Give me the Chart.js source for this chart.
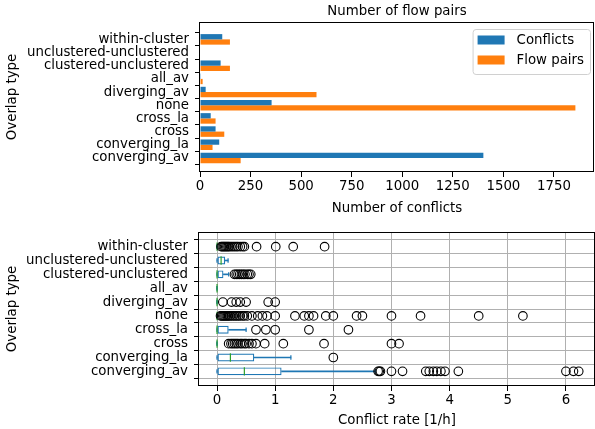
<!DOCTYPE html>
<html>
<head>
<meta charset="utf-8">
<script src="https://cdn.jsdelivr.net/npm/chart.js@4.4.0/dist/chart.umd.min.js"></script>
<style>
  html, body { margin: 0; padding: 0; background: #fff; }
  #wrap { position: relative; width: 595px; height: 429px; overflow: hidden; }
  canvas { position: absolute; left: 0; }
  #topChart { top: 0; }
  #boxChart { top: 215px; }
</style>
</head>
<body>
<div id="wrap">
  <canvas id="topChart" width="595" height="222"></canvas>
  <canvas id="boxChart" width="595" height="222"></canvas>
</div>
<script>
// categories, top to bottom as in the picture
const categories = ["within-cluster", "unclustered-unclustered", "clustered-unclustered", "all_av", "diverging_av",
  "none", "cross_la", "cross", "converging_la", "converging_av"];

// top chart: counts
const conflicts = [110, 0, 102, 1, 28, 354, 53, 77, 95, 1401];
const flowPairs = [148, 0, 148, 13, 576, 1856, 77, 120, 62, 201];
const countTicks = [0, 250, 500, 750, 1000, 1250, 1500, 1750];

// bottom chart: conflict rate box stats
const rateTicks = [0, 1, 2, 3, 4, 5, 6];
const q1 = [0, 0, 0, 0, 0, 0, 0, 0, 0, 0];
const medians = [0, 0.07, 0, 0, 0, 0, 0, 0, 0.23, 0.47];
const q3 = [0, 0.14, 0.11, 0, 0, 0, 0.2, 0, 0.64, 1.11];
const whiskLo = [0, 0, 0, 0, 0, 0, 0, 0, 0, 0];
const whiskHi = [0, 0.19, 0.2, 0, 0, 0, 0.5, 0, 1.27, 2.72];
const fliers = [
  [0.07, 0.09, 0.11, 0.13, 0.15, 0.17, 0.19, 0.21, 0.24, 0.27, 0.3, 0.33, 0.36, 0.4, 0.44, 0.47, 0.68, 1.01, 1.31, 1.85],
  [],
  [0.3, 0.33, 0.36, 0.39, 0.42, 0.45, 0.48, 0.52, 0.55, 0.58],
  [],
  [0.1, 0.25, 0.33, 0.4, 0.5, 0.88, 1.0],
  [0.06, 0.08, 0.1, 0.12, 0.14, 0.16, 0.18, 0.2, 0.22, 0.25, 0.28, 0.31, 0.34, 0.37, 0.4, 0.44, 0.47, 0.52, 0.6, 0.7,
    0.78, 0.86, 1.0, 1.34, 1.5, 1.58, 1.66, 1.87, 2.0, 2.4, 2.5, 3.0, 3.5, 4.5, 5.26],
  [0.67, 0.84, 1.0, 1.58, 2.26],
  [0.2, 0.24, 0.27, 0.3, 0.33, 0.36, 0.4, 0.43, 0.47, 0.5, 0.55, 0.6, 0.67, 0.82, 1.14, 1.84, 3.0, 3.13],
  [2.0],
  [2.77, 2.79, 2.81, 3.0, 3.19, 3.59, 3.65, 3.72, 3.78, 3.85, 3.92, 4.15, 6.0, 6.13, 6.22]
];

const blue = "#1f77b4", orange = "#ff7f0e", green = "#2ca02c";

Chart.defaults.font.family = "'DejaVu Sans'";
Chart.defaults.font.size = 13.33;
Chart.defaults.color = "#000";
Chart.defaults.animation = false;
Chart.defaults.plugins.legend.display = false;
Chart.defaults.plugins.tooltip.enabled = false;

// black frame round the plot area, like matplotlib spines
const frame = {
  id: "frame",
  afterDatasetsDraw(chart) {
    const { ctx, chartArea: a } = chart;
    ctx.save();
    ctx.strokeStyle = "#000";
    ctx.lineWidth = 1;
    ctx.strokeRect(Math.round(a.left) - 0.5, Math.round(a.top) + 0.5,
      Math.round(a.right - a.left), Math.round(a.bottom - a.top) - 1);
    ctx.restore();
  }
};

// legend box in the top right corner of the plot
const legendBox = {
  id: "legendBox",
  afterDraw(chart) {
    const { ctx, chartArea } = chart;
    const sets = chart.data.datasets;
    ctx.save();
    ctx.font = "13.33px 'DejaVu Sans'";
    const textW = Math.max(...sets.map(d => ctx.measureText(d.label).width));
    const w = 5 + 27 + 12 + textW + 6;
    const h = 45;
    const x = chartArea.right - 4 - w;
    const y = chartArea.top + 7;
    ctx.beginPath();
    ctx.roundRect(x + 0.5, y + 0.5, w, h, 3);
    ctx.fillStyle = "rgba(255,255,255,0.8)";
    ctx.fill();
    ctx.strokeStyle = "#d0d0d0";
    ctx.lineWidth = 1;
    ctx.stroke();
    sets.forEach((d, i) => {
      const cy = y + 11 + i * 20;
      ctx.fillStyle = d.backgroundColor;
      ctx.fillRect(x + 5, cy - 4.5, 27, 9);
      ctx.fillStyle = "#000";
      ctx.textBaseline = "middle";
      ctx.fillText(d.label, x + 5 + 27 + 12, cy + 1);
    });
    ctx.restore();
  }
};

const yTicksAt = (scale) => { scale.ticks = categories.map((c, i) => ({ value: i })); };

// top: grouped horizontal bars
new Chart(document.getElementById("topChart"), {
  type: "bar",
  data: {
    datasets: [
      { label: "Conflicts", backgroundColor: blue, data: conflicts.map((v, i) => ({ x: v, y: i })) },
      { label: "Flow pairs", backgroundColor: orange, data: flowPairs.map((v, i) => ({ x: v, y: i })) }
    ]
  },
  options: {
    responsive: false,
    indexAxis: "y",
    categoryPercentage: 0.8,
    barPercentage: 1.0,
    layout: { autoPadding: false, padding: { left: 0, right: 1, top: 0, bottom: 0 } },
    scales: {
      x: {
        type: "linear", min: 0, max: 1948,
        afterBuildTicks: (s) => { s.ticks = countTicks.map(v => ({ value: v })); },
        afterFit: (s) => { s.height = 50; },
        grid: { drawOnChartArea: false, tickLength: 5, tickColor: "#000" },
        border: { display: false },
        ticks: { padding: 2, maxRotation: 0, autoSkip: false, callback: (v) => String(v) },
        title: { display: true, text: "Number of conflicts", padding: { top: 0, bottom: 5 } }
      },
      // carries only the title, so it is centred over the plot area
      x2: {
        type: "linear", position: "top",
        afterFit: (s) => { s.height = 22; },
        grid: { display: false, drawTicks: false },
        border: { display: false },
        ticks: { display: false },
        title: { display: true, text: "Number of flow pairs", font: { lineHeight: 1 }, padding: { top: 5, bottom: 3.67 } }
      },
      y: {
        type: "linear", reverse: true, min: -0.75, max: 9.5,
        afterBuildTicks: yTicksAt,
        afterFit: (s) => { s.width = 200; },
        grid: { drawOnChartArea: false, tickLength: 5, tickColor: "#000" },
        border: { display: false },
        ticks: { padding: 6, autoSkip: false, callback: (v) => categories[v] },
        title: { display: true, text: "Overlap type", padding: { top: 5, bottom: 0 } }
      }
    }
  },
  plugins: [frame, legendBox]
});

// bottom: box plot built from floating bars and points
const flierPoints = [];
fliers.forEach((list, i) => list.forEach(v => flierPoints.push({ x: v, y: i })));

new Chart(document.getElementById("boxChart"), {
  type: "bar",
  data: {
    datasets: [
      { type: "scatter", label: "fliers", data: flierPoints, pointStyle: "circle", radius: 4.3,
        borderColor: "#000", backgroundColor: "rgba(0,0,0,0)", borderWidth: 1.1 },
      { type: "scatter", label: "median", data: medians.map((v, i) => ({ x: v, y: i })), pointStyle: "line",
        rotation: 90, radius: 4.2, borderColor: green, borderWidth: 1.2 },
      { type: "scatter", label: "caps", data: whiskHi.map((v, i) => ({ x: v, y: i })).concat(whiskLo.map((v, i) => ({ x: v, y: i }))),
        pointStyle: "line", rotation: 90, radius: 2.2, borderColor: blue, borderWidth: 1.2 },
      { label: "box", grouped: false, categoryPercentage: 0.57, barPercentage: 1,
        data: q1.map((v, i) => ({ x: [v, q3[i]], y: i })),
        backgroundColor: "rgba(0,0,0,0)", borderColor: blue, borderWidth: 1.2, borderSkipped: false },
      { label: "whisker high", grouped: false, barThickness: 1,
        data: q3.map((v, i) => ({ x: [v, whiskHi[i]], y: i })), backgroundColor: blue, borderWidth: 0 },
      { label: "whisker low", grouped: false, barThickness: 1,
        data: q1.map((v, i) => ({ x: [whiskLo[i], v], y: i })), backgroundColor: blue, borderWidth: 0 }
    ]
  },
  options: {
    responsive: false,
    indexAxis: "y",
    layout: { autoPadding: false, padding: { left: 0, right: 0, top: 17, bottom: 0 } },
    scales: {
      x: {
        type: "linear", min: -0.31, max: 6.5,
        afterBuildTicks: (s) => { s.ticks = rateTicks.map(v => ({ value: v })); },
        afterFit: (s) => { s.height = 51; },
        grid: { color: "#b0b0b0", lineWidth: 1, tickLength: 5, tickColor: "#000" },
        border: { display: false },
        ticks: { padding: 2, maxRotation: 0, autoSkip: false },
        title: { display: true, text: "Conflict rate [1/h]", padding: { top: 0, bottom: 8 } }
      },
      y: {
        type: "linear", reverse: true, min: -0.5, max: 9.5,
        afterBuildTicks: yTicksAt,
        afterFit: (s) => { s.width = 199; },
        grid: { color: "#b0b0b0", lineWidth: 1, tickLength: 5, tickColor: "#000" },
        border: { display: false },
        ticks: { padding: 6, autoSkip: false, callback: (v) => categories[v] },
        title: { display: true, text: "Overlap type", padding: { top: 5, bottom: 0 } }
      }
    }
  },
  plugins: [frame]
});
</script>
</body>
</html>
